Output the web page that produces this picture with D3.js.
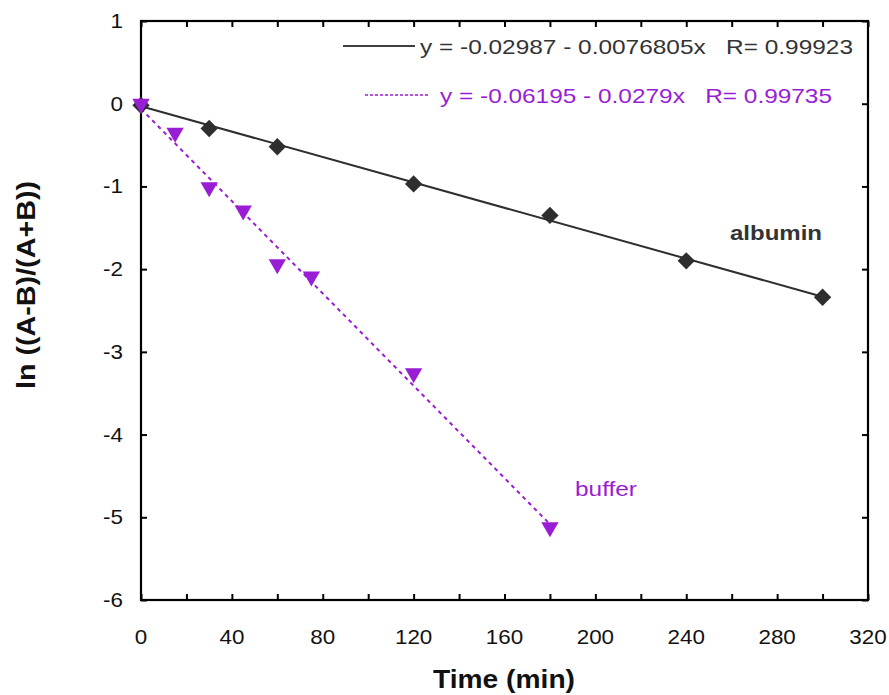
<!DOCTYPE html>
<html><head><meta charset="utf-8">
<script src="https://cdn.jsdelivr.net/npm/d3@7"></script>
<style>body{margin:0;background:#fff}svg{display:block}text{font-family:"Liberation Sans",Arial,sans-serif;white-space:pre}</style>
</head><body>
<svg id="c" width="889" height="695"></svg>
<script>
const albuminX = [0, 30, 60, 120, 180, 240, 300];
const albuminY = [-0.02, -0.30, -0.52, -0.97, -1.35, -1.90, -2.34];
const bufferX = [0, 15, 30, 45, 60, 75, 120, 180];
const bufferY = [0.0, -0.35, -1.01, -1.29, -1.94, -2.09, -3.26, -5.12];
const albuminFit = {a: -0.02987, b: -0.0076805, xmax: 300};
const bufferFit = {a: -0.06195, b: -0.0279, xmax: 180};
const xTicks = [0, 40, 80, 120, 160, 200, 240, 280, 320];
const xMinor = d3.range(0, 321, 20);
const yTicks = [1, 0, -1, -2, -3, -4, -5, -6];
const legendLabels = ["y = -0.02987 - 0.0076805x   R= 0.99923", "y = -0.06195 - 0.0279x   R= 0.99735"];
const seriesNames = ["albumin", "buffer"];

const dark = "#2e2e2e", purple = "#9a1dd6";
const svg = d3.select("#c");
const L = 141, R = 868, T = 21, B = 600;
const x = d3.scaleLinear().domain([0, 320]).range([L, R]);
const y = d3.scaleLinear().domain([-6, 1]).range([B, T]);

// frame ticks
const tk = 6;
const styleTicks = g => { g.select(".domain").remove(); g.selectAll("line").attr("stroke", "#000").attr("stroke-width", 2); };
svg.append("g").attr("transform", `translate(0,${B})`)
  .call(d3.axisBottom(x).tickValues(xMinor).tickSize(-tk).tickFormat("")).call(styleTicks);
svg.append("g").attr("transform", `translate(0,${T})`)
  .call(d3.axisTop(x).tickValues(xMinor).tickSize(-tk).tickFormat("")).call(styleTicks);
svg.append("g").attr("transform", `translate(${L},0)`)
  .call(d3.axisLeft(y).tickValues(yTicks).tickSize(-tk).tickFormat("")).call(styleTicks);
svg.append("g").attr("transform", `translate(${R},0)`)
  .call(d3.axisRight(y).tickValues(yTicks).tickSize(-tk).tickFormat("")).call(styleTicks);
svg.append("rect").attr("x", L).attr("y", T).attr("width", R - L).attr("height", B - T)
  .attr("fill", "none").attr("stroke", "#000").attr("stroke-width", 2.2);

// tick labels (slightly wide face as in the reference)
svg.append("g").selectAll("text").data(xTicks).join("text")
  .attr("transform", d => `translate(${x(d)},${B + 44}) scale(1.12,1)`).attr("text-anchor", "middle")
  .attr("font-size", 20).attr("fill", "#111").text(d => d);
svg.append("g").selectAll("text").data(yTicks).join("text")
  .attr("transform", d => `translate(${L - 18},${y(d) + 7}) scale(1.12,1)`).attr("text-anchor", "end")
  .attr("font-size", 20).attr("fill", "#111").text(d => d);

// axis titles
svg.append("text").attr("x", 504).attr("y", 688).attr("text-anchor", "middle")
  .attr("font-size", 25).attr("font-weight", "bold").attr("fill", "#111")
  .attr("textLength", 142).attr("lengthAdjust", "spacingAndGlyphs").text("Time (min)");
svg.append("text").attr("transform", "translate(35,285) rotate(-90)").attr("text-anchor", "middle")
  .attr("font-size", 25).attr("font-weight", "bold").attr("fill", "#111")
  .attr("textLength", 208).attr("lengthAdjust", "spacingAndGlyphs").text("ln ((A-B)/(A+B))");

// fit lines
const fitLine = f => [[0, f.a], [f.xmax, f.a + f.b * f.xmax]];
const line = d3.line().x(d => x(d[0])).y(d => y(d[1]));
svg.append("path").attr("d", line(fitLine(albuminFit))).attr("fill", "none")
  .attr("stroke", dark).attr("stroke-width", 2);
svg.append("path").attr("d", line(fitLine(bufferFit))).attr("fill", "none")
  .attr("stroke", purple).attr("stroke-width", 2).attr("stroke-dasharray", "4,4");

// markers
const diamond = d3.symbol().type(d3.symbolSquare).size(150)();
svg.append("g").selectAll("path").data(albuminX.map((v, i) => [v, albuminY[i]])).join("path")
  .attr("d", diamond).attr("fill", dark)
  .attr("transform", d => `translate(${x(d[0])},${y(d[1])}) rotate(45)`);
const tri = d3.symbol().type(d3.symbolTriangle).size(130)();
svg.append("g").selectAll("path").data(bufferX.map((v, i) => [v, bufferY[i]])).join("path")
  .attr("d", tri).attr("fill", purple)
  .attr("transform", d => `translate(${x(d[0])},${y(d[1])}) rotate(180)`);

// legend
svg.append("line").attr("x1", 343).attr("x2", 415).attr("y1", 46).attr("y2", 46).attr("stroke", "#000").attr("stroke-width", 1.5);
svg.append("text").attr("x", 420).attr("y", 54).attr("font-size", 21).attr("fill", "#333")
  .attr("textLength", 433).attr("lengthAdjust", "spacingAndGlyphs").text(legendLabels[0]);
svg.append("line").attr("x1", 365).attr("x2", 430).attr("y1", 95).attr("y2", 95).attr("stroke", purple)
  .attr("stroke-width", 1.5).attr("stroke-dasharray", "3,2");
svg.append("text").attr("x", 440).attr("y", 103).attr("font-size", 21).attr("fill", purple)
  .attr("textLength", 392).attr("lengthAdjust", "spacingAndGlyphs").text(legendLabels[1]);

// series labels
svg.append("text").attr("x", 730).attr("y", 240).attr("font-size", 20).attr("font-weight", "bold")
  .attr("fill", "#333").attr("textLength", 92).attr("lengthAdjust", "spacingAndGlyphs").text(seriesNames[0]);
svg.append("text").attr("x", 575).attr("y", 496).attr("font-size", 20).attr("fill", purple)
  .attr("textLength", 62).attr("lengthAdjust", "spacingAndGlyphs").text(seriesNames[1]);
</script>
</body></html>
